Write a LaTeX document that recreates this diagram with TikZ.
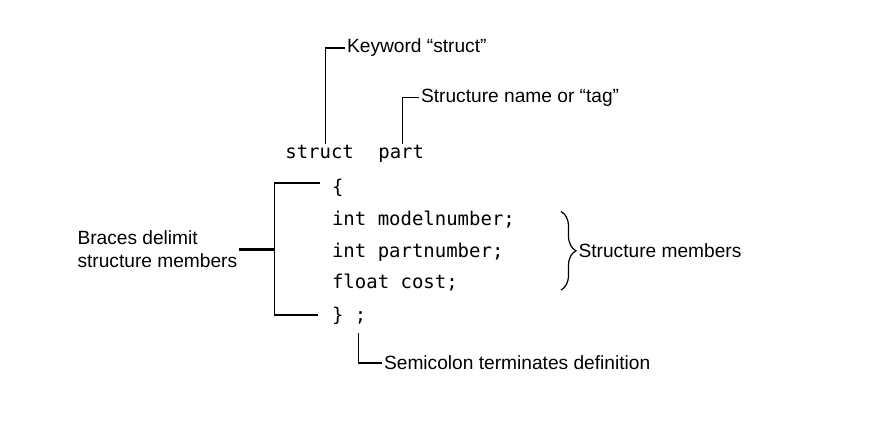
\documentclass[tikz,border=0pt]{standalone}
\usepackage{fontspec}
\setmainfont{Liberation Sans}
\setmonofont{DejaVu Sans Mono}
\usetikzlibrary{decorations.pathreplacing}

\begin{document}
\begin{tikzpicture}[
        codenode/.style={
            anchor=base west,
            inner sep=0pt,
            font=\fontsize{10.8}{13}\selectfont\ttfamily
        },
        notenode/.style={
            anchor=west,
            inner sep=1pt,
            align=left,
            font=\fontsize{10.9}{12.9}\selectfont
        },
        leader/.style={
            line width=0.7pt
        },
        tick/.style={
            line width=1.5pt
        },
        memberbrace/.style={
            line width=0.7pt,
            decorate,
            decoration={brace, amplitude=0.3cm}
        }
    ]
        \useasboundingbox (0,0) rectangle (17.86,8.66);

        % Code lines
        \node[codenode] (struct) at (5.70,5.48) {struct};
        \node[codenode] (part) at (7.56,5.48) {part};
        \node[codenode] (ob) at (6.634,4.78) {\{};
        \node[codenode] (m1) at (6.634,4.14) {int modelnumber;};
        \node[codenode] (m2) at (6.634,3.51) {int partnumber;};
        \node[codenode] (m3) at (6.634,2.88) {float cost;};
        \node[codenode] (cb) at (6.634,2.22) {\} ;};

        % Notes above
        \node[notenode] (kw) at (6.90,7.70) {Keyword “struct”};
        \node[notenode] (tag) at (8.38,6.71) {Structure name or “tag”};

        \draw[leader] (kw.west) -| ([xshift=0.12cm,yshift=0.03cm]struct.north);
        \draw[leader] (tag.west) -| ([xshift=0.03cm,yshift=0.03cm]part.north);

        % Braces delimit members
        \node[notenode, anchor=east] (brlabel) at (4.786,3.674)
            {Braces delimit\\structure members};
        \coordinate (tickend) at (5.486,3.674);
        \coordinate (btop) at (6.40,5.00);
        \coordinate (bbot) at (6.36,2.36);

        \draw[tick] (brlabel.east) -- (tickend);
        \draw[leader] (btop) -- (btop -| tickend) |- (bbot);

        % Structure members
        \coordinate (mtop) at (11.22,4.43);
        \coordinate (mbot) at (11.22,2.86);
        \draw[memberbrace] (mtop) -- (mbot);
        \node[notenode] (mlabel) at (11.53,3.64) {Structure members};

        % Semicolon
        \node[notenode] (semi) at (7.64,1.40) {Semicolon terminates definition};
        \draw[leader] (semi.west) -| ([xshift=0.19cm,yshift=-0.15cm]cb.south);

    \end{tikzpicture}
\end{document}
